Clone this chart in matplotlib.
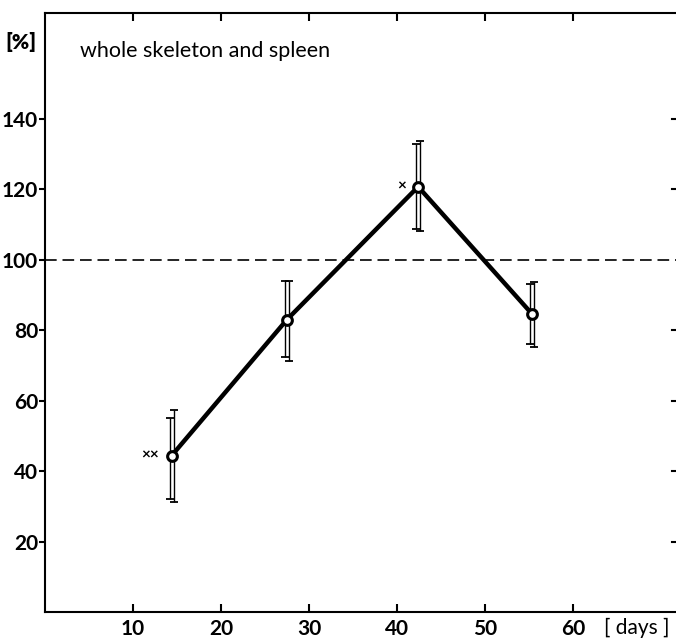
import matplotlib
matplotlib.use("Agg")
import matplotlib.pyplot as plt
import numpy as np

plt.rcParams['font.family'] = ['Lato', 'DejaVu Sans']

# data
days = [14.4, 27.5, 42.4, 55.3]
values = [44.4, 83.0, 120.7, 84.7]
bar_a_low = [32.2, 72.5, 108.8, 76.2]
bar_a_high = [55.2, 93.8, 132.9, 93.2]
bar_b_low = [31.1, 71.1, 108.0, 75.3]
bar_b_high = [57.2, 94.0, 133.8, 93.6]
sig_marks = ["××", "", "×", ""]
reference_level = 100
x_ticks = [10, 20, 30, 40, 50, 60]
y_ticks = [20, 40, 60, 80, 100, 120, 140]

fig = plt.figure(figsize=(6.76, 6.4), dpi=100)
ax = fig.add_axes([45/676, 28/640, 631/676, 599/640])
xmax = 71.7
ax.set_xlim(0, xmax)
ax.set_ylim(0, 170)

# reference line
ax.axhline(reference_level, color='black', lw=1.2, dashes=(7, 3.5))

# error bars (two thin parallel bars)
d = np.array(days)
v = np.array(values)
off = 0.24
ax.errorbar(d - off, v, yerr=[v - np.array(bar_a_low), np.array(bar_a_high) - v],
            fmt='none', ecolor='black', elinewidth=1.0, capsize=3, capthick=1.3)
ax.errorbar(d + off, v, yerr=[v - np.array(bar_b_low), np.array(bar_b_high) - v],
            fmt='none', ecolor='black', elinewidth=1.0, capsize=3, capthick=1.3)

# main line
ax.plot(days, values, color='black', lw=3.2, zorder=3)
ax.plot(days, values, 'o', ms=7, mfc='white', mec='black', mew=2.2, zorder=4, ls='none')

for x, y, s in zip(days, values, sig_marks):
    if s:
        ax.annotate(s, (x, y), xytext=(-9, 0), textcoords='offset points',
                    ha='right', va='center', fontsize=11, fontweight='bold')

for sp in ax.spines.values():
    sp.set_linewidth(1.5)
ax.spines['right'].set_visible(False)

ax.set_xticks(x_ticks)
ax.set_yticks(y_ticks)
ax.tick_params(axis='x', direction='in', length=6, width=1.5, top=True,
               labelsize=15, pad=5)
ax.tick_params(axis='y', direction='out', length=4, width=1.5, right=False,
               labelsize=15, pad=1)
for lab in ax.get_xticklabels() + ax.get_yticklabels():
    lab.set_fontweight('bold')

# right-side inward ticks
for t in y_ticks:
    if t != 100:
        ax.plot([xmax - 0.45, xmax], [t, t], color='black', lw=1.5, clip_on=False)

ax.text(0.055, 0.937, 'whole skeleton and spleen', transform=ax.transAxes,
        fontsize=15.5, va='center', ha='left')
fig.text(5/676, 1 - 42/640, '[%]', fontsize=15, fontweight='heavy', va='center', ha='left')
fig.text(604/676, 1 - 628/640, '[ days ]', fontsize=15, va='center', ha='left')

fig.savefig('out.png', dpi=100)
